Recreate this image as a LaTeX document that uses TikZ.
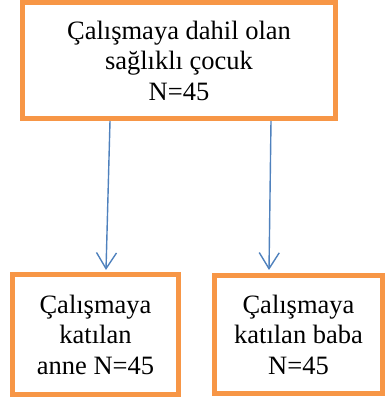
\documentclass[tikz,border=0pt]{standalone}
\usepackage{fontspec}
\setmainfont{Liberation Serif}
\usetikzlibrary{positioning, arrows, arrows.meta}
\definecolor{boxorange}{RGB}{247,150,70}
\definecolor{arrowblue}{RGB}{79,129,189}

\begin{document}
\begin{tikzpicture}
        [
            x=1pt, y=1pt,
            kutu/.style={draw=boxorange, line width=5pt, align=center,
                font=\fontsize{26.5}{30.5}\selectfont, inner sep=0pt},
            ok/.style={draw=arrowblue, line width=1.4pt,
                -{Straight Barb[length=16pt,width=20pt]}},
        ]
        \useasboundingbox (0,0) rectangle (388,401);
        \node[kutu, minimum width=313pt, minimum height=116pt] (cocuk) at (179,340.5)
            {Çalışmaya dahil olan\\sağlıklı çocuk\\N=45};
        \node[kutu, minimum width=166pt, minimum height=120pt] (anne) at (95.5,66.5)
            {Çalışmaya\\katılan\\anne N=45};
        \node[kutu, minimum width=168pt, minimum height=118pt] (baba) at (298.5,66.5)
            {Çalışmaya\\katılan baba\\N=45};
        \draw[ok] ([xshift=-69pt]cocuk.south) -- ([xshift=10.5pt, yshift=2pt]anne.north);
        \draw[ok] ([xshift=92pt]cocuk.south) -- ([xshift=-29.5pt, yshift=3pt]baba.north);
    \end{tikzpicture}
\end{document}
